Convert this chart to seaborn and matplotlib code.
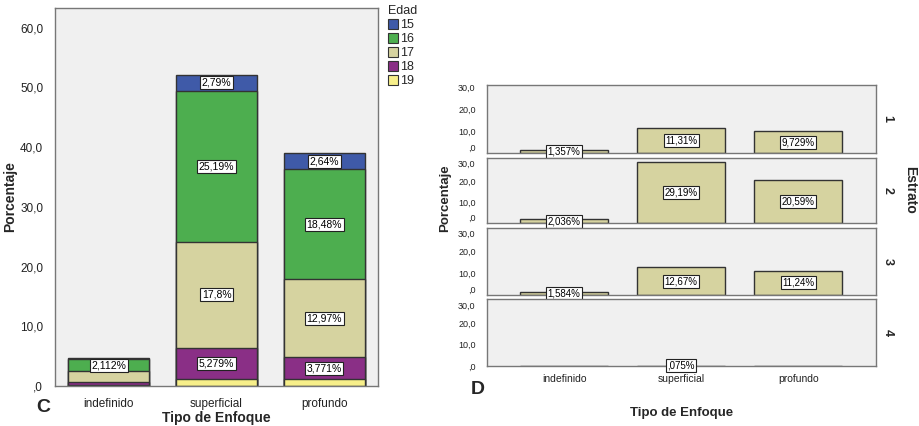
"""Stacked age bars (C) and estrato panels (D) by tipo de enfoque."""

import matplotlib.pyplot as plt
import numpy as np
import pandas as pd
import seaborn as sns
from matplotlib.patches import Patch

ENFOQUES = ["indefinido", "superficial", "profundo"]
EDADES = ["15", "16", "17", "18", "19"]

# percent per edad, in ENFOQUES order
EDAD_15 = [0.05, 2.79, 2.64]
EDAD_16 = [2.112, 25.19, 18.48]
EDAD_17 = [1.75, 17.8, 12.97]
EDAD_18 = [0.55, 5.279, 3.771]
EDAD_19 = [0.15, 1.1, 1.1]
LABELED_LEFT = {"15": [False, True, True], "16": [True, True, True], "17": [False, True, True],
                "18": [False, True, True], "19": [False, False, False]}

ESTRATOS = ["1", "2", "3", "4"]
ESTRATO_1 = [1.357, 11.31, 9.729]
ESTRATO_2 = [2.036, 29.19, 20.59]
ESTRATO_3 = [1.584, 12.67, 11.24]
ESTRATO_4 = [0.0, 0.075, 0.0]

EDAD_COLORS = {"15": "#3f5aa8", "16": "#4dae4f", "17": "#d6d3a0", "18": "#8a2f86", "19": "#f7ef8a"}
TAN = "#d6d3a0"
BG = "#f0f0f0"
EDGE = "#333333"
SPINE = "#777777"


def pct_label(v):
    s = f"{v:.4g}"
    if s.startswith("0."):
        s = s[1:]
    return s.replace(".", ",") + "%"


def axis_label(v):
    s = f"{v:.1f}"
    if s.startswith("0."):
        s = s[1:]
    return s.replace(".", ",")


def label_box(ax, x, y, text, size):
    ax.text(x, y, text, ha="center", va="center", fontsize=size, color="black",
            bbox=dict(boxstyle="square,pad=0.15", facecolor="white", edgecolor="#222222", linewidth=0.8))


def style_axes(ax):
    ax.set_facecolor(BG)
    for sp in ax.spines.values():
        sp.set_visible(True)
        sp.set_color(SPINE)
        sp.set_linewidth(1.0)
    ax.grid(False)
    ax.tick_params(axis="both", direction="out", length=5, width=1, color="#444444")


sns.set_theme(style="white")
plt.rcParams["font.family"] = ["Liberation Sans", "DejaVu Sans"]

df_edad = pd.DataFrame({"15": EDAD_15, "16": EDAD_16, "17": EDAD_17, "18": EDAD_18, "19": EDAD_19},
                       index=ENFOQUES)
df_est = pd.DataFrame({"1": ESTRATO_1, "2": ESTRATO_2, "3": ESTRATO_3, "4": ESTRATO_4}, index=ENFOQUES)

fig = plt.figure(figsize=(9.2, 4.26), dpi=100)

# ---- C: stacked bars by edad
ax = fig.add_axes([0.0598, 0.0939, 0.3511, 0.8873])
style_axes(ax)
stack_order = EDADES[::-1]  # 19 at bottom
cum = df_edad[stack_order].cumsum(axis=1)
for edad in EDADES:  # draw tallest cumulative first
    d = pd.DataFrame({"enfoque": ENFOQUES, "top": cum[edad].values})
    sns.barplot(data=d, x="enfoque", y="top", order=ENFOQUES, color=EDAD_COLORS[edad], saturation=1,
                width=0.75, edgecolor=EDGE, linewidth=1.0, ax=ax)
for edad in EDADES:
    for i, enf in enumerate(ENFOQUES):
        if LABELED_LEFT[edad][i]:
            val = df_edad.loc[enf, edad]
            label_box(ax, i, cum.loc[enf, edad] - val / 2, pct_label(val), 7.5)
ax.set_xlim(-0.5, 2.5)
ax.set_ylim(0, 63.3)
yt = np.arange(0, 61, 10)
ax.set_yticks(yt)
ax.set_yticklabels([axis_label(v) for v in yt], fontsize=8.5, color="#222222")
ax.set_xticks(range(3))
ax.set_xticklabels(ENFOQUES, fontsize=8.5, color="#222222")
ax.set_xlabel("Tipo de Enfoque", fontsize=10, fontweight="bold", labelpad=1)
ax.set_ylabel("Porcentaje", fontsize=10, fontweight="bold", labelpad=2)
handles = [Patch(facecolor=EDAD_COLORS[e], edgecolor=EDGE, linewidth=0.8, label=e) for e in EDADES]
leg = ax.legend(handles=handles, title="Edad", loc="upper left", bbox_to_anchor=(388 / 920, 421 / 426),
                bbox_transform=fig.transFigure, frameon=False, fontsize=9, title_fontsize=9,
                handlelength=0.8, handleheight=0.9, handletextpad=0.2, labelspacing=0.12,
                borderaxespad=0, borderpad=0)
leg._legend_box.align = "left"
fig.text(43 / 920, 1 - 407 / 426, "C", fontsize=14, fontweight="bold", ha="center", va="center")

# ---- D: one panel per estrato
panels = [(152.7, 67.7), (223.3, 65.6), (295.0, 67.3), (366.0, 66.7)]
for k, (est, (bot, h)) in enumerate(zip(ESTRATOS, panels)):
    axd = fig.add_axes([486.7 / 920, (426 - bot) / 426, 389 / 920, h / 426])
    style_axes(axd)
    d = pd.DataFrame({"enfoque": ENFOQUES, "pct": df_est[est].values})
    sns.barplot(data=d, x="enfoque", y="pct", order=ENFOQUES, color=TAN, saturation=1, width=0.75,
                edgecolor=EDGE, linewidth=1.0, ax=axd)
    for i, v in enumerate(df_est[est].values):
        if v > 0:
            label_box(axd, i, v / 2, pct_label(v), 7)
    axd.set_xlim(-0.66, 2.66)
    axd.set_ylim(0, 31)
    yt = np.arange(0, 31, 10)
    axd.set_yticks(yt)
    tls = axd.set_yticklabels([axis_label(v) for v in yt], fontsize=6.5, color="#222222")
    # neighbouring panels: lift ",0" and drop "30,0" so they do not collide
    if k < 3:
        tls[0].set_va("bottom")
    if k > 0:
        tls[-1].set_va("top")
    axd.set_ylabel("")
    axd.set_xlabel("")
    axd.tick_params(axis="y", length=6, pad=2)
    axd.text(1.03, 0.5, est, transform=axd.transAxes, rotation=270, ha="center", va="center",
             fontsize=9, fontweight="bold")
    if k < 3:
        axd.set_xticks([])
    else:
        axd.set_xticks(range(3))
        axd.set_xticklabels(ENFOQUES, fontsize=7.5, color="#222222")
        axd.tick_params(axis="x", pad=1)
        axd.set_xlabel("Tipo de Enfoque", fontsize=9.5, fontweight="bold", labelpad=16)

fig.text(445 / 920, 1 - 198 / 426, "Porcentaje", rotation=90, ha="center", va="center",
         fontsize=9.5, fontweight="bold")
fig.text(910 / 920, 1 - 190 / 426, "Estrato", rotation=270, ha="center", va="center",
         fontsize=10, fontweight="bold")
fig.text(478 / 920, 1 - 389 / 426, "D", fontsize=14, fontweight="bold", ha="center", va="center")

fig.savefig("out.png", dpi=100)
